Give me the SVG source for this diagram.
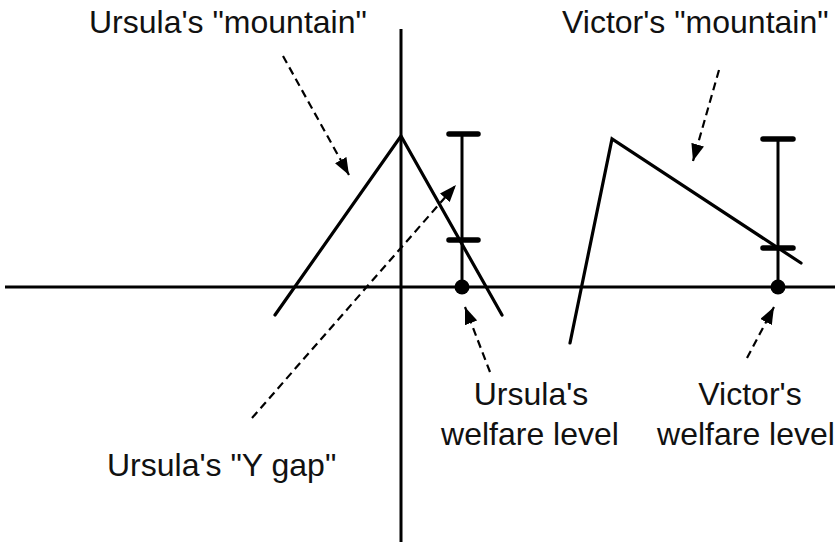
<svg xmlns="http://www.w3.org/2000/svg" width="840" height="549" viewBox="0 0 840 549">
<style>
.ln{stroke:#000;stroke-width:3.2;fill:none;stroke-linecap:round;stroke-linejoin:miter}
.ax{stroke:#000;stroke-width:3;fill:none}
.cap{stroke:#000;stroke-width:5.5;stroke-linecap:round}
.bar{stroke:#000;stroke-width:3}
.dash{stroke:#000;stroke-width:2.2;fill:none;stroke-dasharray:8 5}
.t{font-family:"Liberation Sans",Arial,Helvetica,sans-serif;font-size:32px;fill:#111}
</style>
<defs>
<marker id="ah" markerUnits="userSpaceOnUse" markerWidth="17" markerHeight="13" refX="17" refY="6.5" orient="auto">
<path d="M0,0 L17,6.5 L0,13 z" fill="#000"/>
</marker>
</defs>
<rect width="840" height="549" fill="#fff"/>
<g id="axes">
<line class="ax" x1="5" y1="287" x2="835" y2="287"/>
<line class="ax" x1="401" y1="29" x2="401" y2="542"/>
</g>
<g id="ursula-mountain">
<polyline class="ln" points="275,315 401,136 502,315"/>
</g>
<g id="victor-mountain">
<polyline class="ln" points="570,343 612,139 801,263"/>
</g>
<g id="ursula-bar">
<line class="bar" x1="462" y1="134" x2="462" y2="287"/>
<line class="cap" x1="449" y1="134" x2="478" y2="134"/>
<line class="cap" x1="449" y1="240" x2="478" y2="240"/>
<circle cx="462" cy="287" r="7.5" fill="#000"/>
</g>
<g id="victor-bar">
<line class="bar" x1="778" y1="139" x2="778" y2="287"/>
<line class="cap" x1="763" y1="139" x2="793" y2="139"/>
<line class="cap" x1="763" y1="248" x2="793" y2="248"/>
<circle cx="778" cy="287" r="7.5" fill="#000"/>
</g>
<g id="connectors">
<line class="dash" x1="283" y1="56" x2="349" y2="175" marker-end="url(#ah)"/>
<line class="dash" x1="719" y1="70" x2="693" y2="161" marker-end="url(#ah)"/>
<line class="dash" x1="252" y1="418" x2="456" y2="185" marker-end="url(#ah)"/>
<line class="dash" x1="490" y1="372" x2="465" y2="307" marker-end="url(#ah)"/>
<line class="dash" x1="747" y1="358" x2="774" y2="307" marker-end="url(#ah)"/>
</g>
<g id="labels">
<text class="t" x="89" y="33">Ursula's "mountain"</text>
<text class="t" x="562" y="33">Victor's "mountain"</text>
<text class="t" x="107" y="476">Ursula's "Y gap"</text>
<text class="t" x="531" y="405" text-anchor="middle">Ursula's</text>
<text class="t" x="530" y="445" text-anchor="middle">welfare level</text>
<text class="t" x="750" y="405" text-anchor="middle">Victor's</text>
<text class="t" x="746" y="445" text-anchor="middle">welfare level</text>
</g>
</svg>
